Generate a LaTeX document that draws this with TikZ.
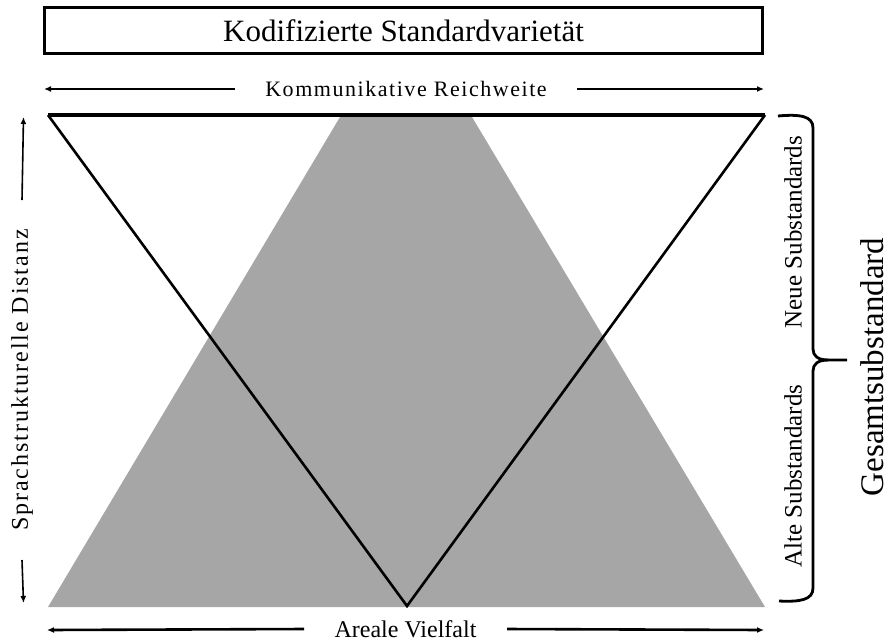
\documentclass[tikz,border=0pt]{standalone}
\usepackage{fontspec}
\setmainfont{Liberation Serif}
\usetikzlibrary{arrows.meta}
\newcommand\fsz[1]{\fontsize{#1}{#1}\selectfont}
\begin{document}
\begin{tikzpicture}[x=1pt,y=-1pt,
  txt/.style={inner sep=0pt, outer sep=0pt},
  arrthin/.style={-{Latex[length=7pt,width=6pt]}, line width=1.6pt},
  arrthick/.style={-{Latex[length=7pt,width=6pt]}, line width=2.6pt},
  greyarea/.style={fill=black!35},
]
\useasboundingbox (0,0) rectangle (893,643);

% grey trapezoid
\coordinate (g1) at (340,117);
\coordinate (g2) at (472,117);
\coordinate (g3) at (765,607);
\coordinate (g4) at (48,607);
\fill[greyarea] (g1) -- (g2) -- (g3) -- (g4) -- cycle;

% inverted triangle
\coordinate (tA) at (48,115);
\coordinate (tB) at (765,115);
\coordinate (tC) at (407,606);
\draw[line width=2.6pt, line join=miter] (tA) -- (tC) -- (tB);
\draw[line width=4.5pt] (tA) -- (tB);

% title box
\node[draw, line width=3pt, minimum width=718pt, minimum height=46pt, inner sep=0pt,
      font=\fsz{31}] (title) at (403.5,30.5) {Kodifizierte Standardvarietät};

% top arrow
\node[txt, minimum width=342pt, font=\fsz{22}\addfontfeatures{LetterSpace=7}] (reach) at (406,89) {Kommunikative Reichweite};
\coordinate (reachL) at (44,89);
\coordinate (reachR) at (764,89);
\draw[arrthin] (reach.west) -- (reachL);
\draw[arrthin] (reach.east) -- (reachR);

% bottom arrow
\node[txt, minimum width=203pt, font=\fsz{24}] (areal) at (405.5,629) {Areale Vielfalt};
\coordinate (arealL) at (47,630);
\coordinate (arealR) at (764,630);
\draw[arrthick] (areal.west) -- (arealL);
\draw[arrthick] (areal.east) -- (arealR);

% left arrow
\node[txt, rotate=90, minimum width=360pt, font=\fsz{24}\addfontfeatures{LetterSpace=8}] (dist) at (22,380) {Sprachstrukturelle Distanz};
\coordinate (distT) at (23.5,117);
\coordinate (distB) at (23.5,603);
\draw[arrthin] (dist.east) -- (distT);
\draw[arrthin] (dist.west) -- (distB);

% right labels
\node[txt, rotate=90, font=\fsz{25}] (neue) at (793,232) {Neue Substandards};
\node[txt, rotate=90, font=\fsz{25}] (alte) at (793,476) {Alte Substandards};
\node[txt, rotate=90, font=\fsz{33}] (gesamt) at (872,367) {Gesamtsubstandard};

% brace
\coordinate (bTop) at (778,116);
\coordinate (bTip) at (847,360);
\coordinate (bBot) at (779,601);
\draw[line width=2.8pt]
  (bTop) .. controls (800,114) and (813,116) .. (813,128)
  -- (813,349) .. controls (813,356) and (818,360) .. (828,360) -- (bTip);
\draw[line width=2.8pt]
  (828,360) .. controls (818,360) and (813,364) .. (813,371)
  -- (813,588) .. controls (813,600) and (800,602) .. (bBot);
\end{tikzpicture}
\end{document}
